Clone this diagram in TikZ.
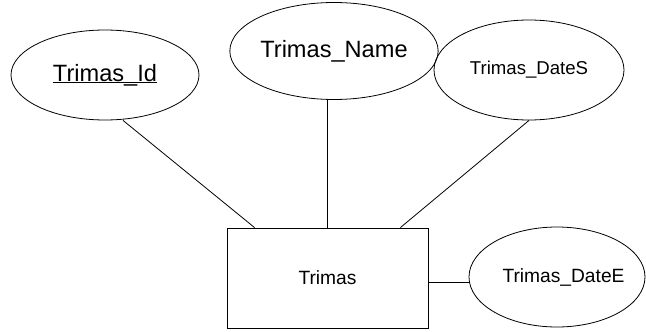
\documentclass[tikz,border=0pt]{standalone}
\usepackage{fontspec}
\setmainfont{Liberation Sans}
\usetikzlibrary{shapes.geometric,calc}
\newcommand\keyul[1]{\setbox0\hbox{#1}\rlap{\rule[-0.09em]{\wd0}{0.06em}}\box0}
\begin{document}
\begin{tikzpicture}[x=1pt,y=-1pt,
  attr/.style={draw,ellipse,inner sep=0pt,line width=0.8pt},
  entity/.style={draw,rectangle,inner sep=0pt,line width=0.8pt},
  link/.style={line width=0.8pt},
  big/.style={font=\fontsize{23.6}{28}\selectfont},
  small/.style={font=\fontsize{18.6}{22}\selectfont},
  mid/.style={font=\fontsize{19.2}{23}\selectfont}]
\useasboundingbox (0,0) rectangle (646,332);
\node[attr,big,minimum width=188pt,minimum height=90pt] (id) at (105,75) {\keyul{Trimas\_Id}};
\node[attr,big,minimum width=202pt,minimum height=97pt] (name) at (334,51) {Trimas\_Name};
\node[attr,small,minimum width=190pt,minimum height=100pt] (ds) at (529,70) {Trimas\_DateS};
\node[entity,mid,minimum width=201pt,minimum height=100pt] (ent) at (327.5,278) {Trimas};
\node[attr,minimum width=176pt,minimum height=100pt] (de) at (557,277) {};
\node[mid,inner sep=0pt] (detext) at (563.5,277) {Trimas\_DateE};
\coordinate (eout) at ($(ent.east)+(0,4)$);
\draw[link] ($(id.south)+(18,0)$) -- ($(ent.north west)+(28,0)$);
\draw[link] (name.south -| ent.north) -- (ent.north);
\draw[link] (ds.south) -- ($(ent.north east)+(-28,0)$);
\draw[link] (eout) -- (eout -| de.west);
\end{tikzpicture}
\end{document}
